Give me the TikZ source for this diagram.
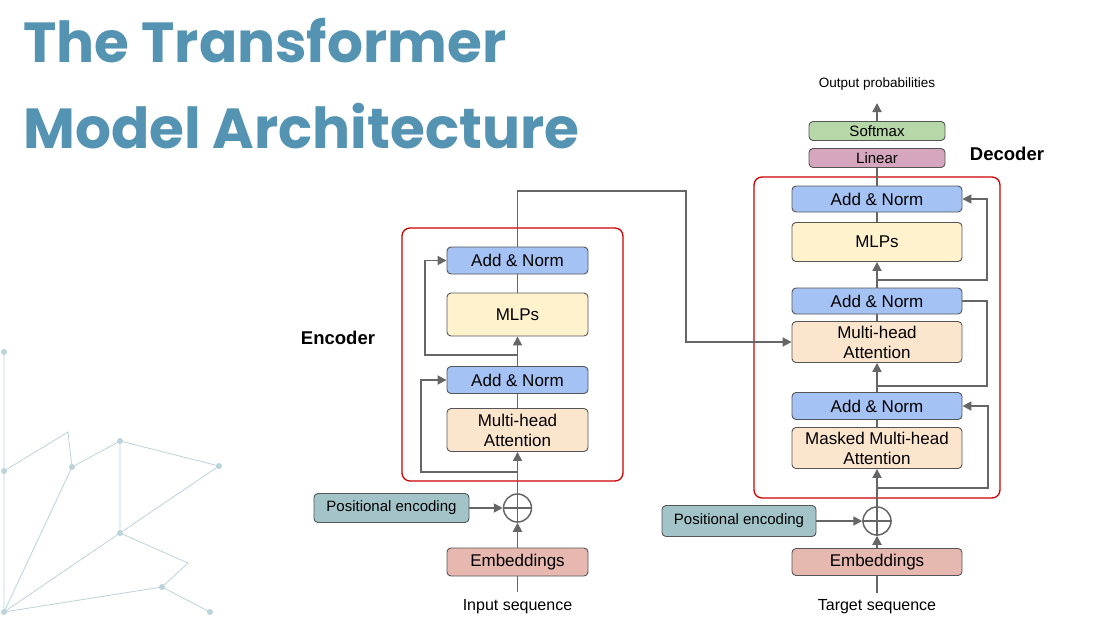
\documentclass[tikz,border=0pt]{standalone}
\usepackage{fontspec}
\setmainfont{Liberation Sans}
\newfontfamily\titlefont{Poppins}
\usetikzlibrary{arrows.meta}
\definecolor{titleblue}{HTML}{5593B3}
\definecolor{decogray}{HTML}{BCD3D9}
\definecolor{boxline}{HTML}{555555}
\definecolor{flowgray}{HTML}{666666}
\definecolor{normblue}{HTML}{A4C2F4}
\definecolor{mlpyellow}{HTML}{FFF2CC}
\definecolor{attnorange}{HTML}{FCE5CD}
\definecolor{embred}{HTML}{E6B8AF}
\definecolor{poscyan}{HTML}{A2C4C9}
\definecolor{softgreen}{HTML}{B6D7A8}
\definecolor{linpink}{HTML}{D5A6BD}
\definecolor{stackred}{HTML}{CC0000}

\begin{document}
\begin{tikzpicture}[x=1pt,y=-1pt,
  blk/.style={draw=boxline, line width=0.9pt, rounded corners=4pt, inner sep=0pt,
    align=center, text=black, font=\fontsize{17}{20}\selectfont},
  encblk/.style={blk, minimum width=141pt},
  decblk/.style={blk, minimum width=170pt},
  smallblk/.style={blk, minimum width=136pt, minimum height=19pt, font=\fontsize{15}{17}\selectfont},
  posblk/.style={blk, fill=poscyan, minimum height=29pt, font=\fontsize{15}{17}\selectfont},
  plus/.style={circle, draw=flowgray, line width=1.5pt, minimum size=28pt, inner sep=0pt},
  stack/.style={draw=stackred, line width=1.3pt, rounded corners=8pt},
  flow/.style={draw=flowgray, line width=1.8pt},
  arr/.style={flow, -{Triangle[length=9pt,width=9pt]}},
  lbl/.style={inner sep=0pt, font=\fontsize{16}{18}\selectfont},
  side/.style={inner sep=0pt, font=\fontsize{18.5}{20}\selectfont\bfseries},
  headline/.style={anchor=base west, inner sep=0pt, text=titleblue,
    font=\titlefont\bfseries\fontsize{56.5}{60}\selectfont},
  deco/.style={draw=decogray, line width=0.8pt},
  dot/.style={fill=decogray}]
\useasboundingbox (0,0) rectangle (1117,622);

\node[headline] (title1) at (23,62) {The Transformer};
\node[headline] (title2) at (23,148) {Model Architecture};

\coordinate (dA) at (4,352);
\coordinate (dB) at (4,471);
\coordinate (dC) at (68,432);
\coordinate (dD) at (72,467);
\coordinate (dE) at (120,441);
\coordinate (dF) at (219,466);
\coordinate (dG) at (120,533);
\coordinate (dH) at (188,563);
\coordinate (dI) at (162,587);
\coordinate (dJ) at (210,612);
\coordinate (dK) at (4,612);
\draw[deco] (dA) -- (dB) -- (dK) -- (dI) -- (dJ);
\draw[deco] (dB) -- (dC) -- (dD) -- (dE) -- (dF) -- (dG) -- (dH) -- (dI);
\draw[deco] (dE) -- (dG) -- (dK) -- (dD);
\foreach \p in {dA,dB,dD,dE,dF,dG,dI,dJ,dK}
  \fill[dot] (\p) circle (3);

\draw[stack] (402,228) rectangle (623,481);
\node[side] (enclabel) at (338,338) {Encoder};
\node[encblk, fill=normblue, minimum height=27pt] (encAN2) at (517.5,260.5) {Add \& Norm};
\node[encblk, fill=mlpyellow, minimum height=43pt] (encMLP) at (517.5,314.5) {MLPs};
\node[encblk, fill=normblue, minimum height=27pt] (encAN1) at (517.5,380) {Add \& Norm};
\node[encblk, fill=attnorange, minimum height=43pt] (encMHA) at (517.5,430) {Multi-head\\Attention};
\node[plus] (encPlus) at (517.5,508) {};
\node[posblk, minimum width=155pt] (encPos) at (391.5,508) {Positional encoding};
\node[encblk, fill=embred, minimum height=28pt] (encEmb) at (517.5,562) {Embeddings};
\node[lbl] (encIn) at (517.5,607) {Input sequence};
\coordinate (encInTop) at (517.5,592);
\coordinate (encB1) at (517.5,472);
\coordinate (encB2) at (517.5,355);

\draw[stack] (754,177) rectangle (1000,498);
\node[side] (declabel) at (1007,154) {Decoder};
\node[smallblk, fill=softgreen] (softmax) at (877,131) {Softmax};
\node[smallblk, fill=linpink] (linear) at (877,158) {Linear};
\node[inner sep=0pt, font=\fontsize{13.5}{16}\selectfont] (outprob) at (877,84) {Output probabilities};
\coordinate (outTip) at (877,103);
\node[decblk, fill=normblue, minimum height=26pt] (decAN3) at (877,199) {Add \& Norm};
\node[decblk, fill=mlpyellow, minimum height=39pt] (decMLP) at (877,242) {MLPs};
\node[decblk, fill=normblue, minimum height=26pt] (decAN2) at (877,301) {Add \& Norm};
\node[decblk, fill=attnorange, minimum height=41pt] (decMHA) at (877,342) {Multi-head\\Attention};
\node[decblk, fill=normblue, minimum height=27pt] (decAN1) at (877,406) {Add \& Norm};
\node[decblk, fill=attnorange, minimum height=41pt] (decMMHA) at (877,448) {Masked Multi-head\\Attention};
\node[plus] (decPlus) at (877,521) {};
\node[posblk, minimum width=154pt, minimum height=31pt] (decPos) at (739,521) {Positional encoding};
\node[decblk, fill=embred, minimum height=27pt] (decEmb) at (877,562) {Embeddings};
\node[lbl] (decIn) at (877,607) {Target sequence};
\coordinate (decInTop) at (877,593);
\coordinate (decB1) at (877,488);
\coordinate (decB2) at (877,386);
\coordinate (decB3) at (877,280);

\draw[flow] (encInTop) -- (encEmb.south);
\draw[arr] (encEmb.north) -- (encPlus.south);
\draw[arr] (encPos.east) -- (encPlus.west);
\draw[flow] (encPlus.north) -- (encPlus.south) (encPlus.west) -- (encPlus.east);
\draw[arr] (encPlus.north) -- (encMHA.south);
\draw[arr] (encB1) -| (421,380) -- (encAN1.west);
\draw[flow] (encMHA.north) -- (encAN1.south);
\draw[arr] (encAN1.north) -- (encMLP.south);
\draw[arr] (encB2) -| (425,260.5) -- (encAN2.west);
\draw[flow] (encMLP.north) -- (encAN2.south);
\draw[arr] (encAN2.north) -- (517.5,191) -| (686,342) -- (decMHA.west);

\draw[flow] (decInTop) -- (decEmb.south);
\draw[arr] (decEmb.north) -- (decPlus.south);
\draw[arr] (decPos.east) -- (decPlus.west);
\draw[flow] (decPlus.north) -- (decPlus.south) (decPlus.west) -- (decPlus.east);
\draw[arr] (decPlus.north) -- (decMMHA.south);
\draw[arr] (decB1) -| (988,406) -- (decAN1.east);
\draw[flow] (decMMHA.north) -- (decAN1.south);
\draw[arr] (decAN1.north) -- (decMHA.south);
\draw[flow] (decB2) -| (987,301) -- (decAN2.east);
\draw[flow] (decMHA.north) -- (decAN2.south);
\draw[arr] (decAN2.north) -- (decMLP.south);
\draw[arr] (decB3) -| (987,199) -- (decAN3.east);
\draw[flow] (decMLP.north) -- (decAN3.south);
\draw[flow] (decAN3.north) -- (linear.south);
\draw[arr] (softmax.north) -- (outTip);
\end{tikzpicture}
\end{document}
